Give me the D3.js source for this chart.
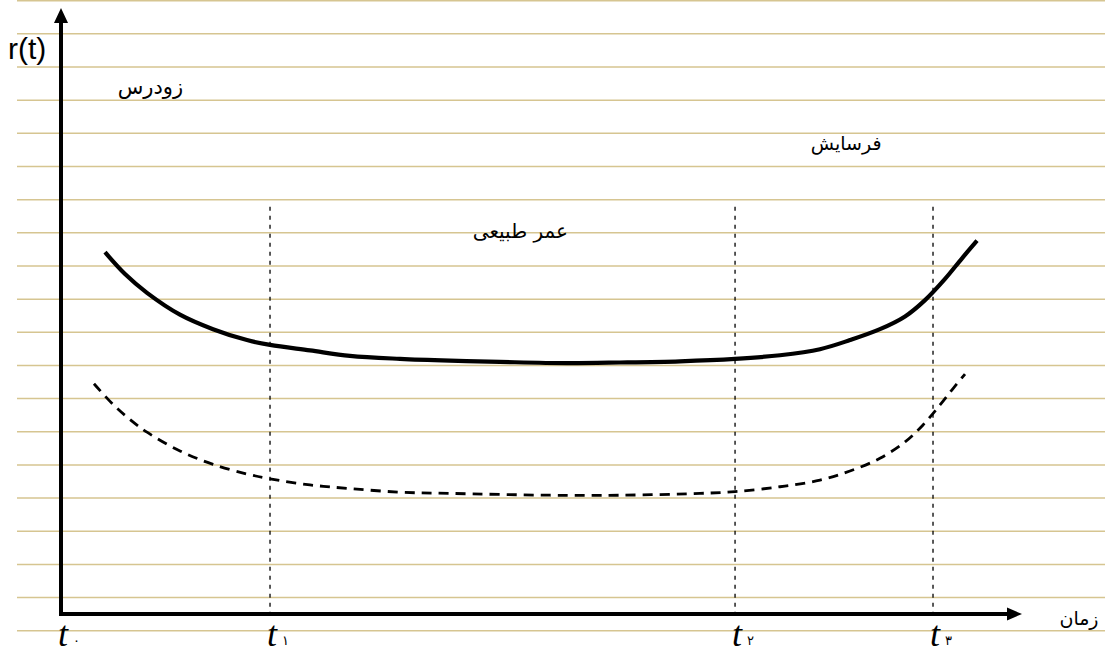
<!DOCTYPE html>
<html><head><meta charset="utf-8">
<script src="https://cdn.jsdelivr.net/npm/d3@7"></script>
<style>html,body{margin:0;padding:0;background:#fff;overflow:hidden}</style>
</head><body>
<svg id="c" width="1105" height="653"></svg>
<script>
// ---- data ----
const tickNames = ["t", "t", "t", "t"];
const tickDigits = ["۰", "۱", "۲", "۳"];
const tickTimes = [0, 21.75, 70.14, 90.74];
const guideTop = 67.2;

const solidT = [4.58,6.66,8.95,12.38,15.82,19.35,21.75,25.91,30.07,35.28,40.48,45.68,52.65,58.17,64.41,70.14,74.82,78.98,82.10,85.22,87.83,89.91,91.99,93.76,95.32];
const solidR = [59.7,56.1,53.0,49.4,47.0,45.2,44.4,43.5,42.6,42.1,41.8,41.6,41.4,41.5,41.7,42.1,42.7,43.7,45.2,47.0,49.1,51.8,55.3,58.7,61.6];

const dashT = [3.43,5.41,7.18,8.95,12.38,15.82,19.35,21.75,25.91,30.07,35.28,40.48,50.88,58.17,66.49,70.14,74.82,78.98,82.10,85.22,87.83,89.70,91.47,92.72,94.07];
const dashR = [38.0,34.6,32.1,30.0,26.9,24.7,23.1,22.3,21.3,20.7,20.1,19.9,19.6,19.6,19.9,20.2,21.0,22.1,23.6,25.7,28.4,31.2,34.5,37.0,39.6];

const regionLabels = ["زودرس", "عمر طبیعی", "فرسایش"];
const regionT = [9.3, 47.8, 81.7];
const regionR = [85.8, 62.0, 76.6];
const regionSize = [21, 20, 19];
const yLabel = "r(t)";
const xLabel = "زمان";

// ---- drawing ----
const svg = d3.select("#c");
const x = d3.scaleLinear().domain([0, 100]).range([61, 1022]);
const y = d3.scaleLinear().domain([0, 100]).range([614, 8]);

// notebook-style ruled background
const ruleY = d3.range(20).map(k => 0.7 + 33.16 * k);
svg.append("g").selectAll("line").data(ruleY).join("line")
  .attr("x1", 17).attr("x2", 1105)
  .attr("y1", d => d).attr("y2", d => d)
  .attr("stroke", "#d6c591").attr("stroke-width", 1.5);

// guide dashed verticals
svg.append("g").selectAll("line").data(tickTimes.slice(1)).join("line")
  .attr("x1", d => x(d)).attr("x2", d => x(d))
  .attr("y1", y(guideTop)).attr("y2", y(0))
  .attr("stroke", "#000").attr("stroke-width", 1.3)
  .attr("stroke-dasharray", "4,5");

// curves
const line = d3.line().x(d => x(d[0])).y(d => y(d[1])).curve(d3.curveCatmullRom.alpha(0.5));
svg.append("path").datum(solidT.map((t, i) => [t, solidR[i]]))
  .attr("d", line).attr("fill", "none").attr("stroke", "#000")
  .attr("stroke-width", 4.2).attr("stroke-linecap", "butt");
svg.append("path").datum(dashT.map((t, i) => [t, dashR[i]]))
  .attr("d", line).attr("fill", "none").attr("stroke", "#000")
  .attr("stroke-width", 2.8).attr("stroke-dasharray", "10,7");

// axes with arrows
svg.append("line").attr("x1", x(0)).attr("x2", x(0)).attr("y1", y(0) + 2).attr("y2", 20)
  .attr("stroke", "#000").attr("stroke-width", 4);
svg.append("path").attr("d", `M${x(0)},8 L${x(0) - 7},23 L${x(0) + 7},23 Z`).attr("fill", "#000");
svg.append("line").attr("x1", x(0) - 2).attr("x2", 1010).attr("y1", y(0)).attr("y2", y(0))
  .attr("stroke", "#000").attr("stroke-width", 4);
svg.append("path").attr("d", `M1022,${y(0)} L1007,${y(0) - 6.5} L1007,${y(0) + 6.5} Z`).attr("fill", "#000");

// tick labels t0..t3
const tg = svg.append("g").selectAll("g").data(tickTimes).join("g")
  .attr("transform", d => `translate(${x(d) - 3},646)`);
tg.append("text").text((d, i) => tickNames[i])
  .attr("font-family", "Liberation Serif, serif").attr("font-style", "italic")
  .attr("font-size", 36).attr("fill", "#000");
tg.append("text").text((d, i) => tickDigits[i])
  .attr("x", 15).attr("y", -1)
  .attr("font-family", "DejaVu Sans, sans-serif").attr("font-size", 13).attr("fill", "#000");

// axis labels
svg.append("text").text(yLabel).attr("x", 8).attr("y", 59)
  .attr("font-family", "Liberation Sans, Arial, sans-serif").attr("font-size", 30).attr("fill", "#000");
svg.append("text").text(xLabel).attr("x", 1079).attr("y", 625).attr("text-anchor", "middle")
  .attr("direction", "rtl").attr("font-family", "DejaVu Sans, sans-serif").attr("font-size", 19).attr("fill", "#000");

// region labels
svg.append("g").selectAll("text").data(regionLabels).join("text")
  .text(d => d)
  .attr("x", (d, i) => x(regionT[i])).attr("y", (d, i) => y(regionR[i]))
  .attr("text-anchor", "middle")
  .attr("font-family", "DejaVu Sans, sans-serif").attr("font-size", (d, i) => regionSize[i]).attr("fill", "#000");
</script>
</body></html>
